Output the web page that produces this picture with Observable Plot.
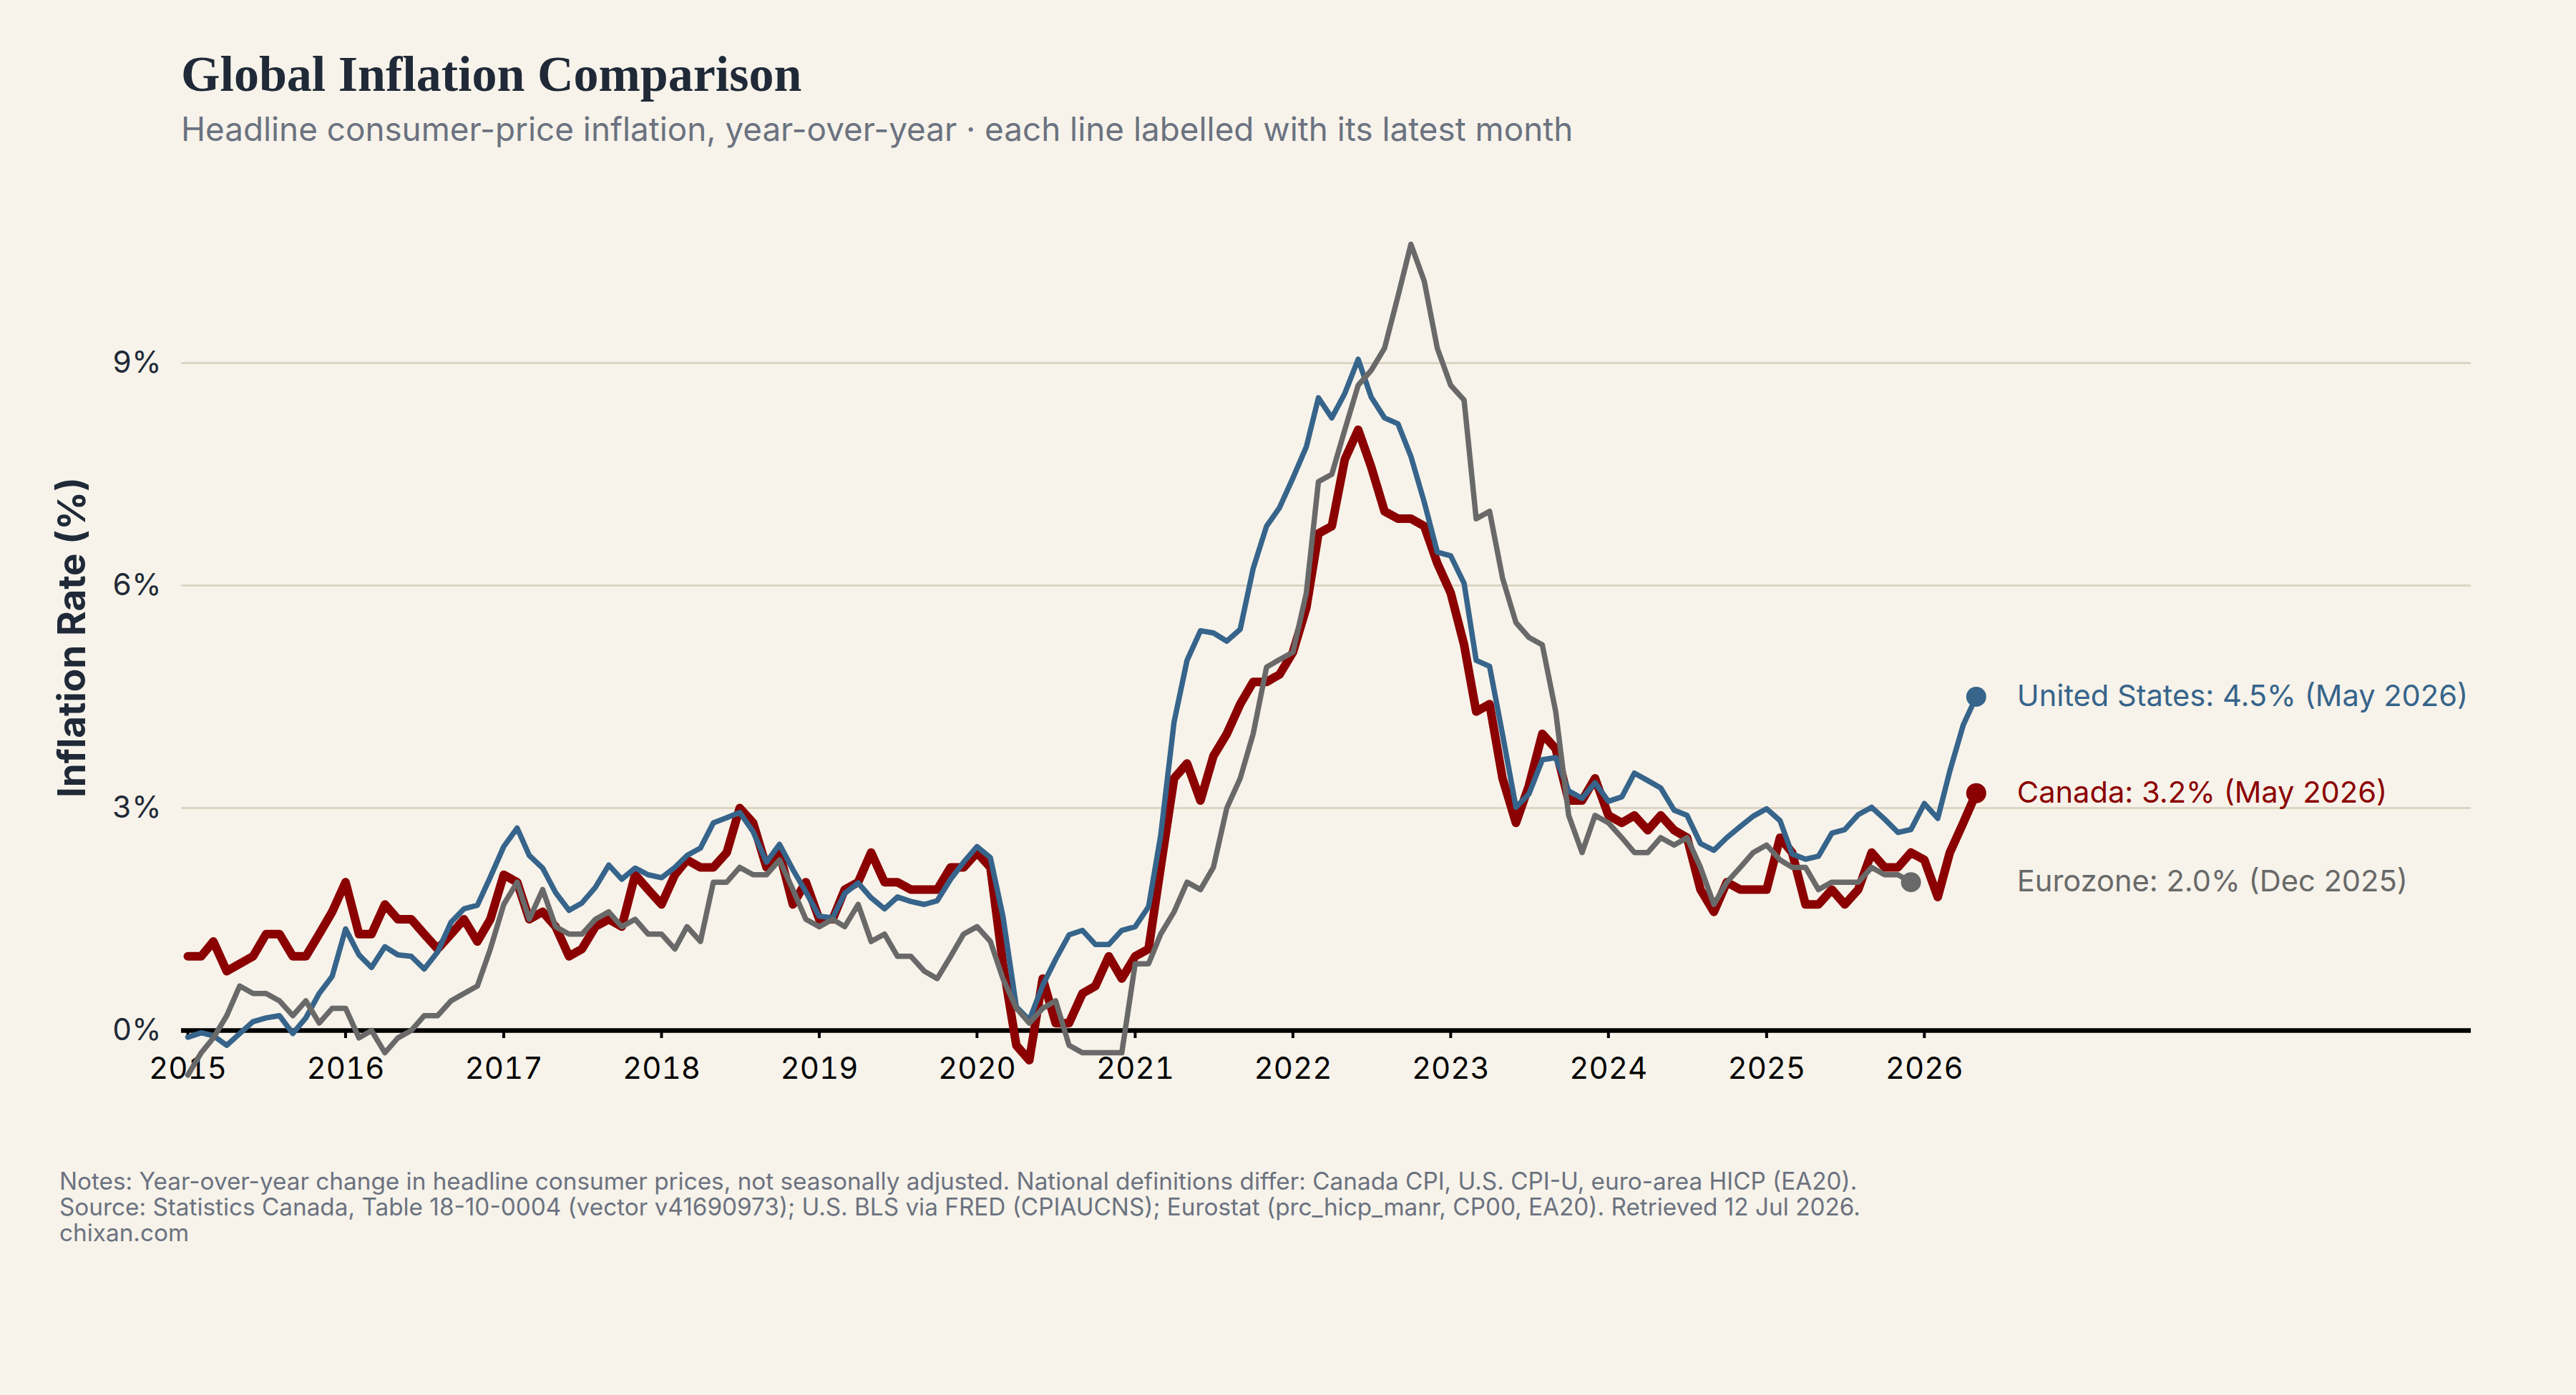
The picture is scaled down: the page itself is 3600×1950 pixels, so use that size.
<!DOCTYPE html>
<html>
<head>
<meta charset="utf-8">
<script src="https://cdn.jsdelivr.net/npm/d3@7"></script>
<script src="https://cdn.jsdelivr.net/npm/@observablehq/plot@0.6"></script>
<style>
  html, body { margin: 0; padding: 0; background: #f7f3ea; }
  body { width: 3600px; height: 1950px; overflow: hidden; font-family: Inter, "Noto Sans", sans-serif; }
  #title { margin: 69px 0 0 253px; font: 700 70px/69px "Liberation Serif", serif; color: #1f2937; white-space: nowrap; }
  #subtitle { margin: 21px 0 0 253px; font: 400 45.8px/44px Inter, sans-serif; color: #6b7280; white-space: nowrap; }
  #chart { height: 1400px; }
  #chart svg { display: block; }
  #notes { margin: 30px 0 0 83px; font: 400 33.3px/36px Inter, sans-serif; color: #6b7280; white-space: nowrap; }
</style>
</head>
<body>
<div id="title">Global Inflation Comparison</div>
<div id="subtitle">Headline consumer-price inflation, year-over-year · each line labelled with its latest month</div>
<div id="chart"></div>
<div id="notes">
  <div>Notes: Year-over-year change in headline consumer prices, not seasonally adjusted. National definitions differ: Canada CPI, U.S. CPI-U, euro-area HICP (EA20).</div>
  <div>Source: Statistics Canada, Table 18-10-0004 (vector v41690973); U.S. BLS via FRED (CPIAUCNS); Eurostat (prc_hicp_manr, CP00, EA20). Retrieved 12 Jul 2026.</div>
  <div>chixan.com</div>
</div>
<script>
// Monthly year-over-year inflation (%), each series starting January 2015.
const firstYear = 2015;

const canada = [
  // 2015
  1.0, 1.0, 1.2, 0.8, 0.9, 1.0, 1.3, 1.3, 1.0, 1.0, 1.3, 1.6,
  // 2016
  2.0, 1.3, 1.3, 1.7, 1.5, 1.5, 1.3, 1.1, 1.3, 1.5, 1.2, 1.5,
  // 2017
  2.1, 2.0, 1.5, 1.6, 1.4, 1.0, 1.1, 1.4, 1.5, 1.4, 2.1, 1.9,
  // 2018
  1.7, 2.1, 2.3, 2.2, 2.2, 2.4, 3.0, 2.8, 2.2, 2.4, 1.7, 2.0,
  // 2019
  1.5, 1.5, 1.9, 2.0, 2.4, 2.0, 2.0, 1.9, 1.9, 1.9, 2.2, 2.2,
  // 2020
  2.4, 2.2, 0.9, -0.2, -0.4, 0.7, 0.1, 0.1, 0.5, 0.6, 1.0, 0.7,
  // 2021
  1.0, 1.1, 2.2, 3.4, 3.6, 3.1, 3.7, 4.0, 4.4, 4.7, 4.7, 4.8,
  // 2022
  5.1, 5.7, 6.7, 6.8, 7.7, 8.1, 7.6, 7.0, 6.9, 6.9, 6.8, 6.3,
  // 2023
  5.9, 5.2, 4.3, 4.4, 3.4, 2.8, 3.3, 4.0, 3.8, 3.1, 3.1, 3.4,
  // 2024
  2.9, 2.8, 2.9, 2.7, 2.9, 2.7, 2.6, 1.9, 1.6, 2.0, 1.9, 1.9,
  // 2025
  1.9, 2.6, 2.4, 1.7, 1.7, 1.9, 1.7, 1.9, 2.4, 2.2, 2.2, 2.4,
  // 2026
  2.3, 1.8, 2.4, 2.8, 3.2
];

const unitedStates = [
  // 2015
  -0.09, -0.03, -0.07, -0.20, -0.04, 0.12, 0.17, 0.20, -0.04, 0.17, 0.50, 0.73,
  // 2016
  1.37, 1.02, 0.85, 1.13, 1.02, 1.00, 0.83, 1.06, 1.46, 1.64, 1.69, 2.07,
  // 2017
  2.48, 2.73, 2.36, 2.19, 1.86, 1.62, 1.72, 1.93, 2.23, 2.04, 2.19, 2.10,
  // 2018
  2.06, 2.20, 2.36, 2.46, 2.80, 2.87, 2.94, 2.68, 2.27, 2.51, 2.17, 1.87,
  // 2019
  1.54, 1.52, 1.85, 1.99, 1.79, 1.64, 1.80, 1.74, 1.70, 1.75, 2.04, 2.27,
  // 2020
  2.48, 2.33, 1.54, 0.32, 0.14, 0.61, 0.96, 1.29, 1.35, 1.16, 1.16, 1.35,
  // 2021
  1.40, 1.67, 2.63, 4.16, 4.99, 5.39, 5.36, 5.25, 5.41, 6.23, 6.80, 7.05,
  // 2022
  7.45, 7.87, 8.53, 8.26, 8.59, 9.05, 8.54, 8.26, 8.18, 7.74, 7.12, 6.45,
  // 2023
  6.40, 6.03, 4.99, 4.91, 3.99, 3.01, 3.19, 3.65, 3.68, 3.23, 3.13, 3.34,
  // 2024
  3.09, 3.15, 3.47, 3.37, 3.27, 2.97, 2.90, 2.52, 2.43, 2.60, 2.75, 2.89,
  // 2025
  2.99, 2.83, 2.38, 2.31, 2.35, 2.66, 2.71, 2.91, 3.01, 2.85, 2.67, 2.71,
  // 2026
  3.06, 2.86, 3.50, 4.12, 4.50
];

const eurozone = [
  // 2015
  -0.6, -0.3, -0.1, 0.2, 0.6, 0.5, 0.5, 0.4, 0.2, 0.4, 0.1, 0.3,
  // 2016
  0.3, -0.1, 0.0, -0.3, -0.1, 0.0, 0.2, 0.2, 0.4, 0.5, 0.6, 1.1,
  // 2017
  1.7, 2.0, 1.5, 1.9, 1.4, 1.3, 1.3, 1.5, 1.6, 1.4, 1.5, 1.3,
  // 2018
  1.3, 1.1, 1.4, 1.2, 2.0, 2.0, 2.2, 2.1, 2.1, 2.3, 1.9, 1.5,
  // 2019
  1.4, 1.5, 1.4, 1.7, 1.2, 1.3, 1.0, 1.0, 0.8, 0.7, 1.0, 1.3,
  // 2020
  1.4, 1.2, 0.7, 0.3, 0.1, 0.3, 0.4, -0.2, -0.3, -0.3, -0.3, -0.3,
  // 2021
  0.9, 0.9, 1.3, 1.6, 2.0, 1.9, 2.2, 3.0, 3.4, 4.0, 4.9, 5.0,
  // 2022
  5.1, 5.9, 7.4, 7.5, 8.1, 8.7, 8.9, 9.2, 9.9, 10.6, 10.1, 9.2,
  // 2023
  8.7, 8.5, 6.9, 7.0, 6.1, 5.5, 5.3, 5.2, 4.3, 2.9, 2.4, 2.9,
  // 2024
  2.8, 2.6, 2.4, 2.4, 2.6, 2.5, 2.6, 2.2, 1.7, 2.0, 2.2, 2.4,
  // 2025
  2.5, 2.3, 2.2, 2.2, 1.9, 2.0, 2.0, 2.0, 2.2, 2.1, 2.1, 2.0
];

const seriesNames = ["Canada", "United States", "Eurozone"];
const yTicks = [0, 3, 6, 9];
const yearTicks = d3.range(2015, 2027);

// Styling per series (drawing order: Canada, United States, Eurozone)
const colors = { "Canada": "#8b0000", "United States": "#36648b", "Eurozone": "#696969" };
const widths = { "Canada": 12, "United States": 7.5, "Eurozone": 7.5 };

const monthDate = i => new Date(Date.UTC(firstYear, i, 1));
const toRows = (name, values) => values.map((value, i) => ({ country: name, date: monthDate(i), value }));

const rows = [
  ...toRows("Canada", canada),
  ...toRows("United States", unitedStates),
  ...toRows("Eurozone", eurozone)
];

const latest = seriesNames.map(name => {
  const pts = rows.filter(d => d.country === name);
  return pts[pts.length - 1];
});
const labelDate = d3.max(latest, d => d.date);
const monthFmt = d3.utcFormat("%b %Y");

const lineMarks = seriesNames.map(name =>
  Plot.line(rows.filter(d => d.country === name), {
    x: "date", y: "value",
    stroke: colors[name], strokeWidth: widths[name],
    strokeLinejoin: "round", strokeLinecap: "round"
  })
);

const chart = Plot.plot({
  width: 3600,
  height: 1400,
  marginTop: 138,
  marginBottom: 163,
  marginLeft: 253,
  marginRight: 147,
  style: { background: "transparent", fontFamily: "Inter, sans-serif", fontSize: "42px", overflow: "visible" },
  x: {
    type: "utc",
    domain: [new Date(Date.UTC(2015, 0, 1)), new Date(Date.UTC(2029, 5, 1))],
    range: [262, 3442]
  },
  y: { domain: [0, 10.6] },
  marks: [
    Plot.gridY(yTicks.filter(t => t > 0), { stroke: "#ddd5c4", strokeOpacity: 1, strokeWidth: 3 }),
    Plot.axisY(yTicks, {
      tickSize: 0, tickPadding: 28, tickFormat: d => d + "%",
      fill: "#1f2937", fontSize: 42, label: null
    }),
    Plot.axisX(yearTicks.map(y => new Date(Date.UTC(y, 0, 1))), {
      tickSize: 11, tickPadding: 27, tickFormat: "%Y",
      stroke: "#000", strokeWidth: 4, fill: "#000", fontSize: 42, label: null
    }),
    Plot.ruleY([0], { stroke: "#000", strokeWidth: 6.5 }),
    Plot.text(["Inflation Rate (%)"], {
      frameAnchor: "left", textAnchor: "middle", rotate: -90, dx: -151,
      fontSize: 53, fontWeight: 700, fill: "#1f2937"
    }),
    ...lineMarks,
    Plot.dot(latest, { x: "date", y: "value", r: 14, fill: d => colors[d.country], stroke: "none" }),
    Plot.text(latest, {
      x: () => labelDate, y: "value",
      text: d => `${d.country}: ${d.value.toFixed(1)}% (${monthFmt(d.date)})`,
      fill: d => colors[d.country],
      textAnchor: "start", dx: 57, fontSize: 41.6
    })
  ]
});

document.getElementById("chart").appendChild(chart);
</script>
</body>
</html>
